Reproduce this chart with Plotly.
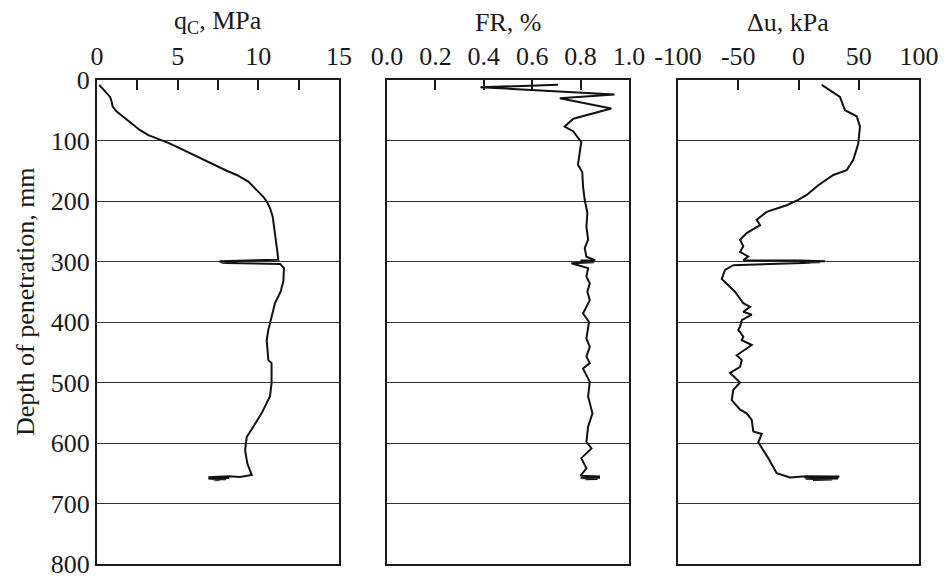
import plotly.graph_objects as go

# ---- CPT profile: cone resistance q_c (MPa) vs depth (mm) ----
depth_qc = [8, 19, 28, 36, 44, 52, 61, 72, 83, 91, 96, 104, 113, 121, 132, 143, 150, 157,
            168, 182, 193, 201, 212, 226, 243, 253, 265, 276, 297,
            298.5, 298.8, 299.1, 299.4, 299.7, 300.0, 300.3, 300.6, 300.9, 301.2, 301.5,
            301.8, 302.1, 302.4,
            304, 311, 333, 350, 369, 391, 413, 430, 463, 468, 501, 523, 551, 573, 590,
            612, 634, 653, 656,
            655.0, 655.5, 656.0, 656.5, 657.0, 657.5, 658.0, 658.5, 659.0, 659.5, 660.0,
            660.5, 661.0, 661.5]
qc = [0.14, 0.50, 0.81, 0.91, 0.97, 1.22, 1.63, 2.15, 2.67, 3.18, 3.70, 4.42, 5.15, 5.77,
      6.59, 7.42, 8.04, 8.66, 9.38, 9.90, 10.31, 10.52, 10.73, 10.89, 10.99, 11.03, 11.10,
      11.14, 11.24,
      8.7, 7.8, 8.6, 7.6, 8.5, 7.7, 8.7, 7.6, 8.4, 7.8, 8.6, 7.7, 8.3, 8.0,
      11.35, 11.59, 11.55, 11.38, 11.03, 10.82, 10.62, 10.52, 10.62, 10.82, 10.82, 10.72,
      10.20, 9.69, 9.28, 9.18, 9.32, 9.59, 8.86,
      8.2, 7.0, 8.1, 6.9, 7.9, 7.1, 8.2, 6.9, 7.8, 7.0, 8.0, 7.2, 7.6, 7.3]

# ---- friction ratio FR (%) vs depth (mm) ----
depth_fr = [8, 12, 24, 30, 47, 60, 64, 77, 85, 99, 102, 121, 140, 152, 176, 198, 220, 242,
            264, 278, 292,
            298.0, 298.4, 298.8, 299.2, 299.6, 300.0, 300.4, 300.8, 301.2, 301.6, 302.0,
            303, 311, 325, 336, 350, 364, 386, 400, 427, 441, 457, 468, 477, 499, 523, 551,
            573, 598, 609, 625, 642,
            654.0, 654.5, 655.0, 655.5, 656.0, 656.5, 657.0, 657.5, 658.0, 658.5, 659.0,
            659.5, 660.0]
fr = [0.707, 0.386, 0.94, 0.714, 0.927, 0.80, 0.77, 0.734, 0.77, 0.796, 0.803, 0.796, 0.789,
      0.807, 0.81, 0.817, 0.828, 0.824, 0.831, 0.817, 0.824,
      0.86, 0.80, 0.855, 0.805, 0.86, 0.80, 0.85, 0.81, 0.855, 0.805, 0.84,
      0.762, 0.831, 0.824, 0.838, 0.828, 0.838, 0.81, 0.835, 0.824, 0.838, 0.824, 0.838,
      0.81, 0.838, 0.831, 0.849, 0.831, 0.824, 0.845, 0.803, 0.824,
      0.80, 0.87, 0.81, 0.88, 0.80, 0.875, 0.81, 0.88, 0.80, 0.86, 0.815, 0.87, 0.82]

# ---- excess pore pressure Δu (kPa) vs depth (mm) ----
depth_du = [8, 28, 50, 60, 77, 105, 132, 149, 157, 174, 190, 198, 207, 218, 231, 240, 253,
            264, 275, 284, 292, 298,
            298.5, 298.9, 299.3, 299.7, 300.1, 300.5, 300.9, 301.3, 301.7, 302.1, 302.5,
            306, 314, 329, 350, 369, 375, 383, 388, 397, 408, 413, 424, 430, 438, 455, 463,
            474, 484, 500, 512, 529, 545, 551, 562, 581, 585, 599, 625, 650, 657,
            655.0, 655.5, 656.0, 656.5, 657.0, 657.5, 658.0, 658.5, 659.0, 659.5, 660.0,
            660.5, 661.0]
du = [19.3, 34.4, 38.6, 48.3, 51.0, 49.6, 45.5, 40.0, 28.9, 16.4, 6.8, -0.2, -9.8, -26.4,
      -34.7, -31.9, -43.0, -48.5, -45.8, -48.5, -41.7, -45.8,
      2, 20, 5, 22, 1, 15, 3, 18, 2, 10, 4,
      -54.1, -61.0, -63.7, -52.7, -45.8, -40.2, -45.8, -38.8, -47.1, -48.5, -50.0, -45.8,
      -47.1, -38.8, -51.3, -47.1, -48.5, -56.8, -48.5, -54.1, -55.4, -48.5, -43.0, -38.8,
      -37.5, -30.5, -33.4, -25.1, -18.1, -7.1,
      6, 34, 8, 30, 5, 26, 7, 33, 6, 20, 9, 28, 12]

depth_ticks = [0, 100, 200, 300, 400, 500, 600, 700, 800]
qc_ticks = [0, 5, 10, 15]
fr_ticks = [0.0, 0.2, 0.4, 0.6, 0.8, 1.0]
fr_ticktext = ["0.0", "0.2", "0.4", "0.6", "0.8", "1.0"]
du_ticks = [-100, -50, 0, 50, 100]
du_ticktext = ["-100", "-50", "0", "50", "100"]

W, H = 945, 577
FONT = dict(family="Liberation Serif", size=26, color="#1a1a1a")
INK = "#1a1a1a"


def fx(px):
    return px / W


def fy(px):
    return 1 - px / H


ydom = [fy(564), fy(80)]

fig = go.Figure()
line = dict(color="#111111", width=2)
fig.add_trace(go.Scatter(x=qc, y=depth_qc, mode="lines", line=line, xaxis="x", yaxis="y"))
fig.add_trace(go.Scatter(x=fr, y=depth_fr, mode="lines", line=line, xaxis="x2", yaxis="y2"))
fig.add_trace(go.Scatter(x=du, y=depth_du, mode="lines", line=line, xaxis="x3", yaxis="y3"))

common_x = dict(side="top", ticks="inside", ticklen=10, tickwidth=1.5, tickcolor=INK,
                showline=True, mirror=True, linecolor=INK, linewidth=2,
                showgrid=False, zeroline=False, tickfont=FONT, automargin=False,
                ticklabeloverflow="allow", ticklabelstandoff=3)
common_y = dict(range=[800, 0], tickvals=depth_ticks, showgrid=True, gridcolor="#333333",
                gridwidth=1.2, showline=True, mirror=True, linecolor=INK, linewidth=2,
                zeroline=False, ticks="", tickfont=FONT, domain=ydom, automargin=False,
                ticklabeloverflow="allow")

layout = dict(
    width=W, height=H,
    margin=dict(l=0, r=0, t=0, b=0),
    paper_bgcolor="white", plot_bgcolor="white",
    showlegend=False,
    font=FONT,
    xaxis=dict(domain=[fx(97), fx(339)], range=[0, 15], anchor="y", tickvals=qc_ticks,
               minor=dict(dtick=2.5, ticks="inside", ticklen=10, tickwidth=1.5, tickcolor=INK),
               **common_x),
    xaxis2=dict(domain=[fx(387), fx(629)], range=[0, 1], anchor="y2", tickvals=fr_ticks,
                ticktext=fr_ticktext, **common_x),
    xaxis3=dict(domain=[fx(678), fx(919)], range=[-100, 100], anchor="y3", tickvals=du_ticks,
                ticktext=du_ticktext, **common_x),
    yaxis=dict(anchor="x", showticklabels=True, **common_y),
    yaxis2=dict(anchor="x2", showticklabels=False, **common_y),
    yaxis3=dict(anchor="x3", showticklabels=False, **common_y),
)
fig.update_layout(**layout)

titles = [("q<sub>C</sub>, MPa", 218), ("FR, %", 508), ("Δu, kPa", 788)]
for text, xc in titles:
    fig.add_annotation(text=text, x=fx(xc), y=fy(22), xref="paper", yref="paper",
                       showarrow=False, font=FONT, xanchor="center", yanchor="middle")

fig.add_annotation(text="Depth of penetration, mm", x=fx(25), y=fy(302), xref="paper",
                   yref="paper", showarrow=False, font=FONT, textangle=-90,
                   xanchor="center", yanchor="middle")

fig.write_html("out.html")
